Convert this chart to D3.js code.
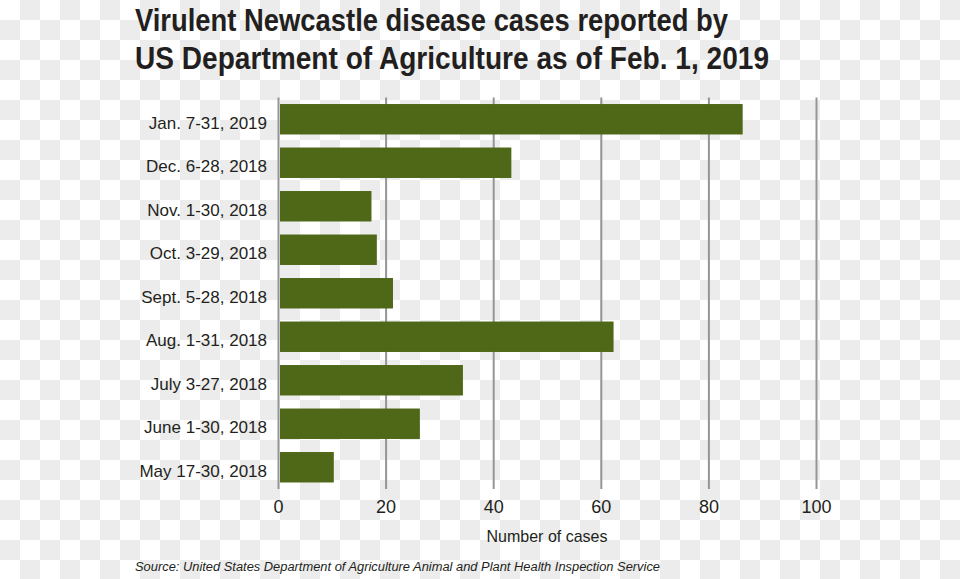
<!DOCTYPE html>
<html>
<head>
<meta charset="utf-8">
<script src="https://cdn.jsdelivr.net/npm/d3@7"></script>
<style>
  html, body { margin: 0; padding: 0; background: #fff; }
  svg { display: block; }
</style>
</head>
<body>
<div id="chart"></div>
<script>
// ---- data ----
const categories = ["Jan. 7-31, 2019", "Dec. 6-28, 2018", "Nov. 1-30, 2018", "Oct. 3-29, 2018",
  "Sept. 5-28, 2018", "Aug. 1-31, 2018", "July 3-27, 2018", "June 1-30, 2018", "May 17-30, 2018"];
const cases = [86, 43, 17, 18, 21, 62, 34, 26, 10];
const xTicks = [0, 20, 40, 60, 80, 100];
const titleLines = ["Virulent Newcastle disease cases reported by",
  "US Department of Agriculture as of Feb. 1, 2019"];
const xAxisTitle = "Number of cases";
const sourceText = "Source: United States Department of Agriculture Animal and Plant Health Inspection Service";

// ---- layout ----
const W = 960, H = 579;
const plotTop = 97.5, plotBottom = 489;
const xLeft = 278, xRight = 816;
const textColor = "#231f20";
const barColor = "#4e6818";
const gridColor = "#939598";
const labelFont = "'Liberation Sans', Arial, sans-serif";
const titleFont = "'Liberation Sans Narrow', 'Arial Narrow', 'Liberation Sans', Arial, sans-serif";

const svg = d3.select("#chart").append("svg")
  .attr("width", W).attr("height", H);

// checkerboard background (as in the reference picture)
const defs = svg.append("defs");
const pat = defs.append("pattern").attr("id", "checker")
  .attr("width", 40).attr("height", 40).attr("patternUnits", "userSpaceOnUse");
pat.append("rect").attr("width", 40).attr("height", 40).attr("fill", "#ffffff");
pat.append("rect").attr("x", 20).attr("y", 0).attr("width", 20).attr("height", 20).attr("fill", "#ececec");
pat.append("rect").attr("x", 0).attr("y", 20).attr("width", 20).attr("height", 20).attr("fill", "#ececec");
svg.append("rect").attr("width", W).attr("height", H).attr("fill", "url(#checker)");

const x = d3.scaleLinear().domain([0, 100]).range([xLeft, xRight]);
const y = d3.scaleBand().domain(categories).range([plotTop, plotBottom])
  .paddingInner(0.3).paddingOuter(0.15);

// grid lines via axis
const xAxis = d3.axisBottom(x).tickValues(xTicks)
  .tickSizeInner(-(plotBottom - plotTop)).tickSizeOuter(0).tickFormat(d3.format("d"));
const gx = svg.append("g").attr("transform", `translate(0,${plotBottom})`).call(xAxis);
gx.select(".domain").remove();
gx.selectAll(".tick line").attr("stroke", gridColor).attr("stroke-width", 2);
gx.selectAll(".tick text")
  .attr("y", 24).attr("dy", 0)
  .attr("fill", textColor)
  .style("font-family", labelFont).style("font-size", "18px");

// bars
svg.append("g").selectAll("rect").data(categories).join("rect")
  .attr("x", x(0) + 2)
  .attr("y", d => y(d))
  .attr("width", (d, i) => x(cases[i]) - x(0))
  .attr("height", y.bandwidth())
  .attr("fill", barColor);

// category labels
svg.append("g").selectAll("text").data(categories).join("text")
  .attr("x", 267)
  .attr("y", d => y(d) + y.bandwidth() / 2)
  .attr("dy", "0.56em")
  .attr("text-anchor", "end")
  .attr("fill", textColor)
  .style("font-family", labelFont).style("font-size", "17px")
  .text(d => d);

// axis title
svg.append("text")
  .attr("x", (x(0) + x(100)) / 2).attr("y", 542)
  .attr("text-anchor", "middle")
  .attr("fill", textColor)
  .style("font-family", labelFont).style("font-size", "17px")
  .attr("textLength", 121).attr("lengthAdjust", "spacingAndGlyphs")
  .text(xAxisTitle);

// title
const titleWidths = [593, 634];
svg.append("g").selectAll("text").data(titleLines).join("text")
  .attr("x", 135)
  .attr("y", (d, i) => 31 + i * 38)
  .attr("fill", textColor)
  .style("font-family", titleFont).style("font-size", "31px").style("font-weight", "bold")
  .attr("textLength", (d, i) => titleWidths[i]).attr("lengthAdjust", "spacingAndGlyphs")
  .text(d => d);

// source
svg.append("text")
  .attr("x", 135).attr("y", 571)
  .attr("fill", textColor)
  .style("font-family", labelFont).style("font-size", "12.5px").style("font-style", "italic")
  .attr("textLength", 525).attr("lengthAdjust", "spacingAndGlyphs")
  .text(sourceText);
</script>
</body>
</html>
